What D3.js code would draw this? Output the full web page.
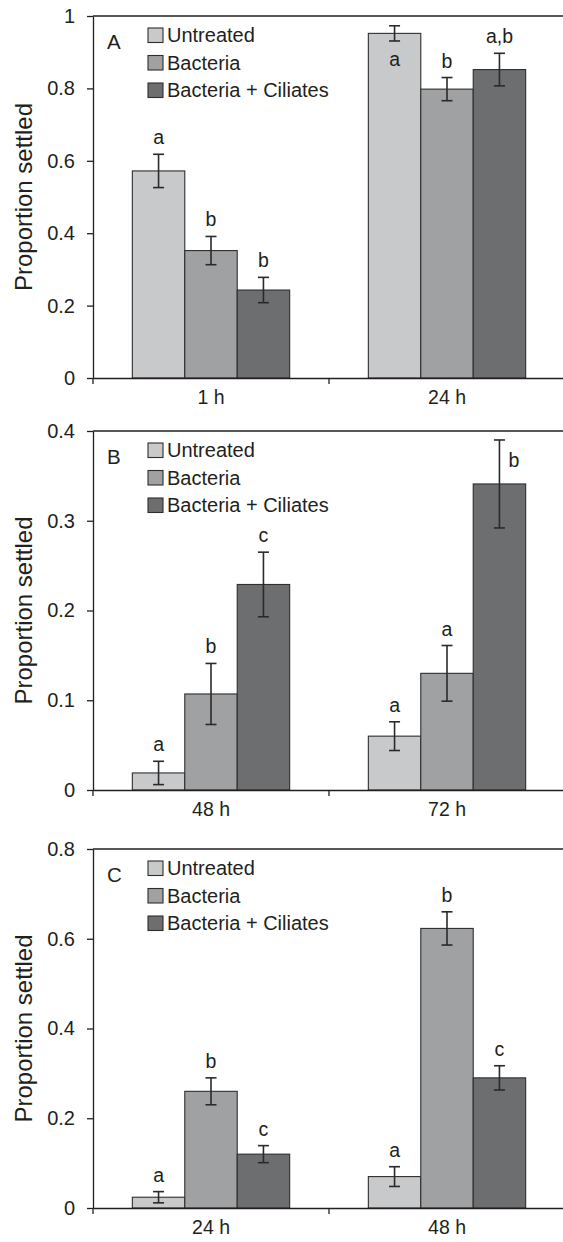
<!DOCTYPE html>
<html>
<head>
<meta charset="utf-8">
<script src="https://cdn.jsdelivr.net/npm/d3@7"></script>
<style>
  body { margin: 0; background: #fff; }
  text { font-family: "Liberation Sans", Arial, Helvetica, sans-serif; fill: #231f20; }
</style>
</head>
<body>
<svg id="chart"></svg>
<script>
// treatments (legend order)
var series = ["Untreated", "Bacteria", "Bacteria + Ciliates"];

// panel A
var categoriesA = ["1 h", "24 h"];
var valuesA = [[0.572, 0.952], [0.352, 0.798], [0.243, 0.852]];
var errorsA = [[0.046, 0.021], [0.039, 0.032], [0.035, 0.045]];
var lettersA = [["a", "a"], ["b", "b"], ["b", "a,b"]];
var placeA = [["top", "in"], ["top", "top"], ["top", "top"]];
var ticksA = [0, 0.2, 0.4, 0.6, 0.8, 1];

// panel B
var categoriesB = ["48 h", "72 h"];
var valuesB = [[0.019, 0.060], [0.107, 0.130], [0.229, 0.341]];
var errorsB = [[0.013, 0.016], [0.034, 0.031], [0.036, 0.049]];
var lettersB = [["a", "a"], ["b", "a"], ["c", "b"]];
var placeB = [["top", "top"], ["top", "top"], ["top", "side"]];
var ticksB = [0, 0.1, 0.2, 0.3, 0.4];

// panel C
var categoriesC = ["24 h", "48 h"];
var valuesC = [[0.024, 0.070], [0.260, 0.623], [0.120, 0.290]];
var errorsC = [[0.0125, 0.022], [0.030, 0.037], [0.019, 0.027]];
var lettersC = [["a", "a"], ["b", "b"], ["c", "c"]];
var placeC = [["top", "top"], ["top", "top"], ["top", "top"]];
var ticksC = [0, 0.2, 0.4, 0.6, 0.8];

var svg = d3.select("#chart").attr("width", 563).attr("height", 1242);

var color = d3.scaleOrdinal()
    .domain(series)
    .range(["#c8c9cb", "#a0a1a3", "#6d6e70"]);

function drawPanel(p) {
    var g = svg.append("g");

    // outer band = time point, inner band = treatment
    var x0 = d3.scaleBand().domain(p.categories).range([93, 565]);
    var x1 = d3.scaleBand().domain(series).range([0, x0.bandwidth()]).paddingOuter(0.75);
    var y = d3.scaleLinear().domain([0, d3.max(p.ticks)]).range([p.bottom, p.top]);

    // flatten into one record per bar
    var rows = [];
    series.forEach(function(s, i) {
        p.categories.forEach(function(c, j) {
            rows.push({s: s, c: c, v: p.values[i][j], e: p.errors[i][j],
                       l: p.letters[i][j], pl: p.place[i][j]});
        });
    });

    // top frame line
    g.append("line")
        .attr("x1", 93).attr("x2", 565)
        .attr("y1", y(d3.max(p.ticks))).attr("y2", y(d3.max(p.ticks)))
        .attr("stroke", "#231f20").attr("stroke-width", 1.3);

    // bars
    g.append("g").selectAll("rect")
        .data(rows)
        .enter().append("rect")
        .attr("x", function(d) { return x0(d.c) + x1(d.s); })
        .attr("y", function(d) { return y(d.v); })
        .attr("width", x1.bandwidth())
        .attr("height", function(d) { return y(0) - y(d.v); })
        .attr("fill", function(d) { return color(d.s); })
        .attr("stroke", "#2e2e2e")
        .attr("stroke-width", 1.1);

    // error bars
    var eb = g.append("g").attr("stroke", "#2a2a2a").attr("stroke-width", 1.6);
    rows.forEach(function(d) {
        var cx = x0(d.c) + x1(d.s) + x1.bandwidth() / 2;
        eb.append("line").attr("x1", cx).attr("x2", cx)
            .attr("y1", y(d.v + d.e)).attr("y2", y(d.v - d.e));
        eb.append("line").attr("x1", cx - 5.5).attr("x2", cx + 5.5)
            .attr("y1", y(d.v + d.e)).attr("y2", y(d.v + d.e));
        eb.append("line").attr("x1", cx - 5.5).attr("x2", cx + 5.5)
            .attr("y1", y(d.v - d.e)).attr("y2", y(d.v - d.e));
    });

    // significance letters
    g.append("g").selectAll("text")
        .data(rows)
        .enter().append("text")
        .attr("font-size", 19.5)
        .attr("text-anchor", function(d) { return d.pl == "side" ? "start" : "middle"; })
        .attr("x", function(d) {
            var cx = x0(d.c) + x1(d.s) + x1.bandwidth() / 2;
            return d.pl == "side" ? cx + 9 : cx;
        })
        .attr("y", function(d) {
            if (d.pl == "in") return y(d.v - d.e) + 25;
            if (d.pl == "side") return y(d.v + d.e) + 27;
            return y(d.v + d.e) - 10;
        })
        .text(function(d) { return d.l; });

    // y axis
    var yAxis = d3.axisLeft(y)
        .tickValues(p.ticks)
        .tickFormat(d3.format(""))
        .tickSize(6)
        .tickSizeOuter(0)
        .tickPadding(12);
    var ya = g.append("g")
        .attr("transform", "translate(93,0)")
        .call(yAxis);
    ya.selectAll("text").attr("font-size", 20).attr("font-family", null);
    ya.selectAll("path, line").attr("stroke", "#231f20").attr("stroke-width", 1.3);

    // x axis: labels at band centres, ticks at band edges
    var xAxis = d3.axisBottom(x0).tickSize(0).tickPadding(12.5);
    var xa = g.append("g")
        .attr("transform", "translate(0," + p.bottom + ")")
        .call(xAxis);
    xa.selectAll("text").attr("font-size", 19.5).attr("font-family", null);
    xa.selectAll("path").attr("stroke", "#231f20").attr("stroke-width", 1.3);
    var edges = p.categories.map(function(c) { return x0(c); });
    edges.push(x0.range()[1]);
    g.append("g").selectAll("line")
        .data(edges)
        .enter().append("line")
        .attr("x1", function(d) { return d; }).attr("x2", function(d) { return d; })
        .attr("y1", p.bottom).attr("y2", p.bottom + 6)
        .attr("stroke", "#231f20").attr("stroke-width", 1.3);

    // y title
    g.append("text")
        .attr("transform", "translate(32," + (p.top + p.bottom) / 2 + ") rotate(-90)")
        .attr("text-anchor", "middle")
        .attr("font-size", 24)
        .text("Proportion settled");

    // panel letter
    g.append("text")
        .attr("x", 107).attr("y", p.top + 33)
        .attr("font-size", 20.5)
        .text(p.label);

    // legend
    var lg = g.append("g").attr("transform", "translate(148," + (p.top + 12) + ")");
    var item = lg.selectAll("g")
        .data(series)
        .enter().append("g")
        .attr("transform", function(d, i) { return "translate(0," + i * 27.5 + ")"; });
    item.append("rect")
        .attr("width", 15).attr("height", 14.5)
        .attr("fill", function(d) { return color(d); })
        .attr("stroke", "#2e2e2e").attr("stroke-width", 1.1);
    item.append("text")
        .attr("x", 19).attr("y", 14)
        .attr("font-size", 20)
        .text(function(d) { return d; });
}

drawPanel({label: "A", categories: categoriesA, values: valuesA, errors: errorsA,
           letters: lettersA, place: placeA, ticks: ticksA, top: 16, bottom: 378});
drawPanel({label: "B", categories: categoriesB, values: valuesB, errors: errorsB,
           letters: lettersB, place: placeB, ticks: ticksB, top: 431, bottom: 790});
drawPanel({label: "C", categories: categoriesC, values: valuesC, errors: errorsC,
           letters: lettersC, place: placeC, ticks: ticksC, top: 849, bottom: 1208});
</script>
</body>
</html>
